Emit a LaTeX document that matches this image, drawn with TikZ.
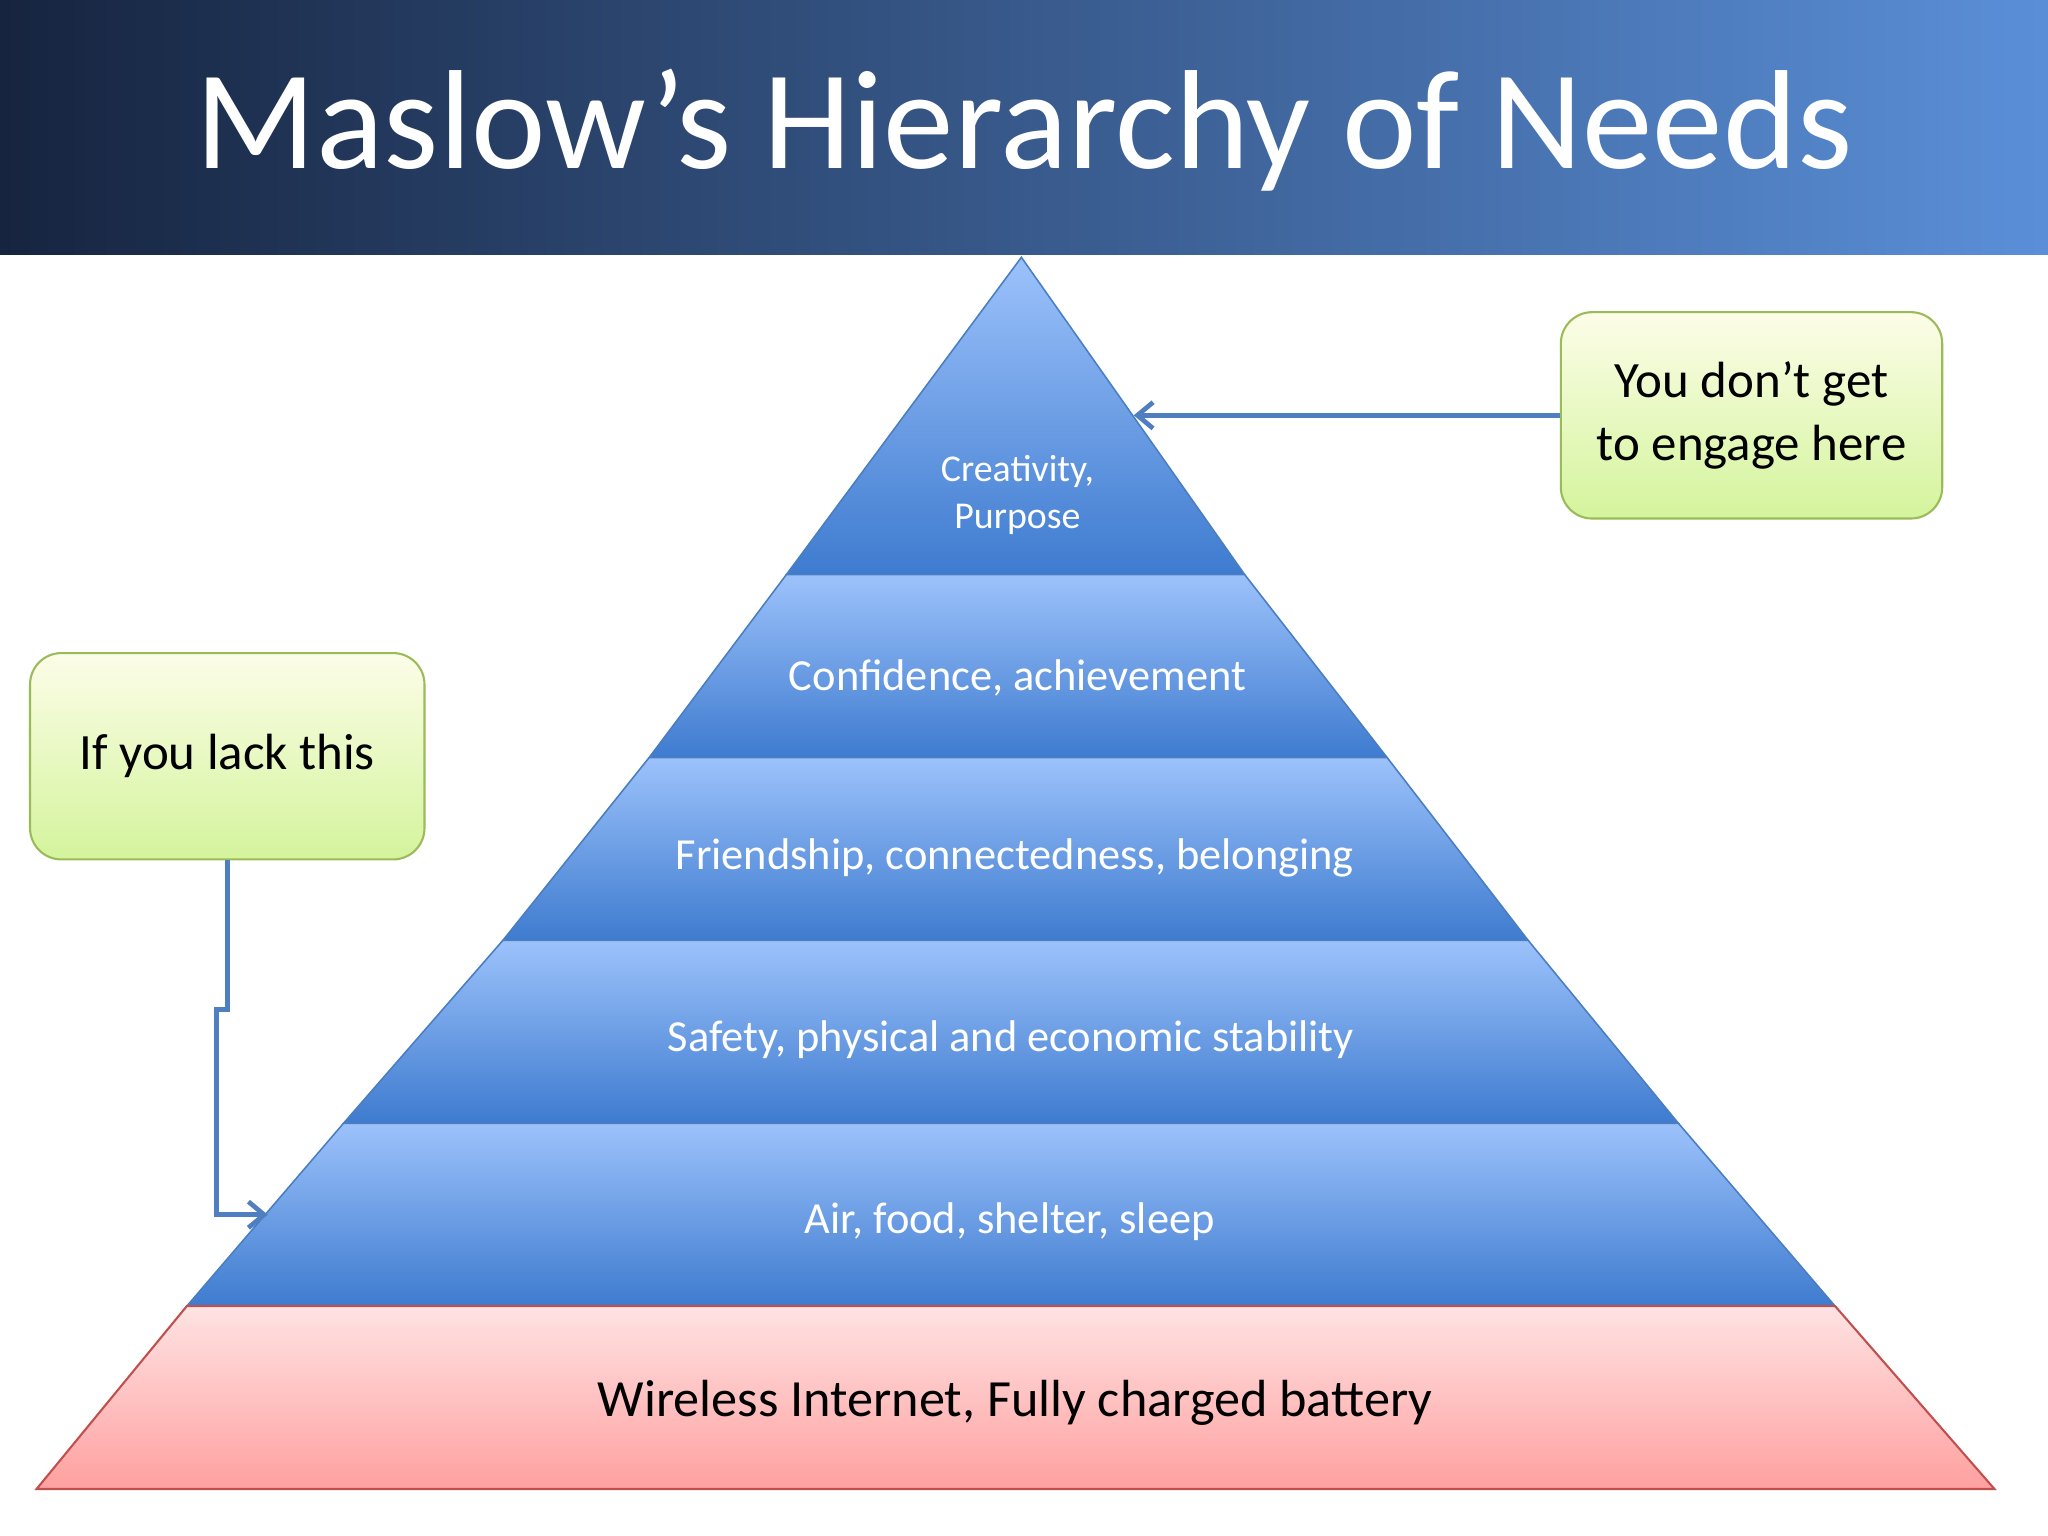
\documentclass[tikz,border=0pt]{standalone}
\usepackage{fontspec}
\setmainfont{Carlito}
\usetikzlibrary{arrows.meta}
\definecolor{navy}{HTML}{16243F}
\definecolor{hblue}{HTML}{5A8FD8}
\definecolor{ltop}{HTML}{9CC2FB}
\definecolor{lbot}{HTML}{3E7BCF}
\definecolor{ledge}{HTML}{4A7EC0}
\definecolor{rtop}{HTML}{FFE3E3}
\definecolor{rbot}{HTML}{FFA0A0}
\definecolor{redge}{HTML}{C0504D}
\definecolor{gtop}{HTML}{FCFDE8}
\definecolor{gbot}{HTML}{D4F49C}
\definecolor{gedge}{HTML}{9BBB59}
\definecolor{conn}{HTML}{4F7FC0}
\tikzset{
 layer/.style={draw=ledge,line width=0.6pt,top color=ltop,bottom color=lbot},
 lbl/.style={text=white,font=\fontsize{17}{20}\selectfont,align=center},
 gbox/.style={draw=gedge,line width=0.8pt,rounded corners=12pt,top color=gtop,bottom color=gbot,align=center,font=\fontsize{19.5}{24}\selectfont},
 conline/.style={draw=conn,line width=1.8pt,-{Straight Barb[length=6pt,width=10pt]}}
}
\begin{document}
\begin{tikzpicture}[x=0.5pt,y=-0.5pt]
\useasboundingbox (0,0) rectangle (1568,1176);
\shade[left color=navy,right color=hblue] (0,0) rectangle (1568,195);
\node[text=white,font=\fontsize{54}{60}\selectfont] (title) at (784,100) {Maslow’s Hierarchy of Needs};
% layers
\path[layer] (782,197) -- (953,440) -- (602,440) -- cycle;
\path[layer] (602,440) -- (953,440) -- (1062,580) -- (497,580) -- cycle;
\path[layer] (497,580) -- (1062,580) -- (1170,720) -- (385,720) -- cycle;
\path[layer] (385,720) -- (1170,720) -- (1285,860) -- (263,860) -- cycle;
\path[layer] (263,860) -- (1285,860) -- (1405,1000) -- (143,1000) -- cycle;
\path[draw=redge,line width=0.8pt,top color=rtop,bottom color=rbot] (143,1000) -- (1405,1000) -- (1527,1140) -- (28,1140) -- cycle;
\node[lbl,font=\fontsize{14.5}{18}\selectfont] (l1) at (779,379) {Creativity,\\Purpose};
\node[lbl] (l2) at (779,519) {Confidence, achievement};
\node[lbl] (l3) at (777,657) {Friendship, connectedness, belonging};
\node[lbl] (l4) at (774,796) {Safety, physical and economic stability};
\node[lbl] (l5) at (773,935) {Air, food, shelter, sleep};
\node[font=\fontsize{20}{24}\selectfont] (l6) at (777,1074) {Wireless Internet, Fully charged battery};
% boxes
\node[gbox,minimum width=146pt,minimum height=79pt] (rb) at (1341,318) {You don’t get\\to engage here};
\node[gbox,minimum width=151pt,minimum height=79pt] (lb) at (174,579) {If you lack this};
\coordinate (top) at (868,318);
\coordinate (j1) at (174,773);
\coordinate (j2) at (166,773);
\coordinate (j3) at (166,930);
\coordinate (base) at (205,930);
\draw[conline] (rb.west) -- (top);
\draw[conline] (lb.south) -- (j1) -- (j2) -- (j3) -- (base);
\end{tikzpicture}
\end{document}
